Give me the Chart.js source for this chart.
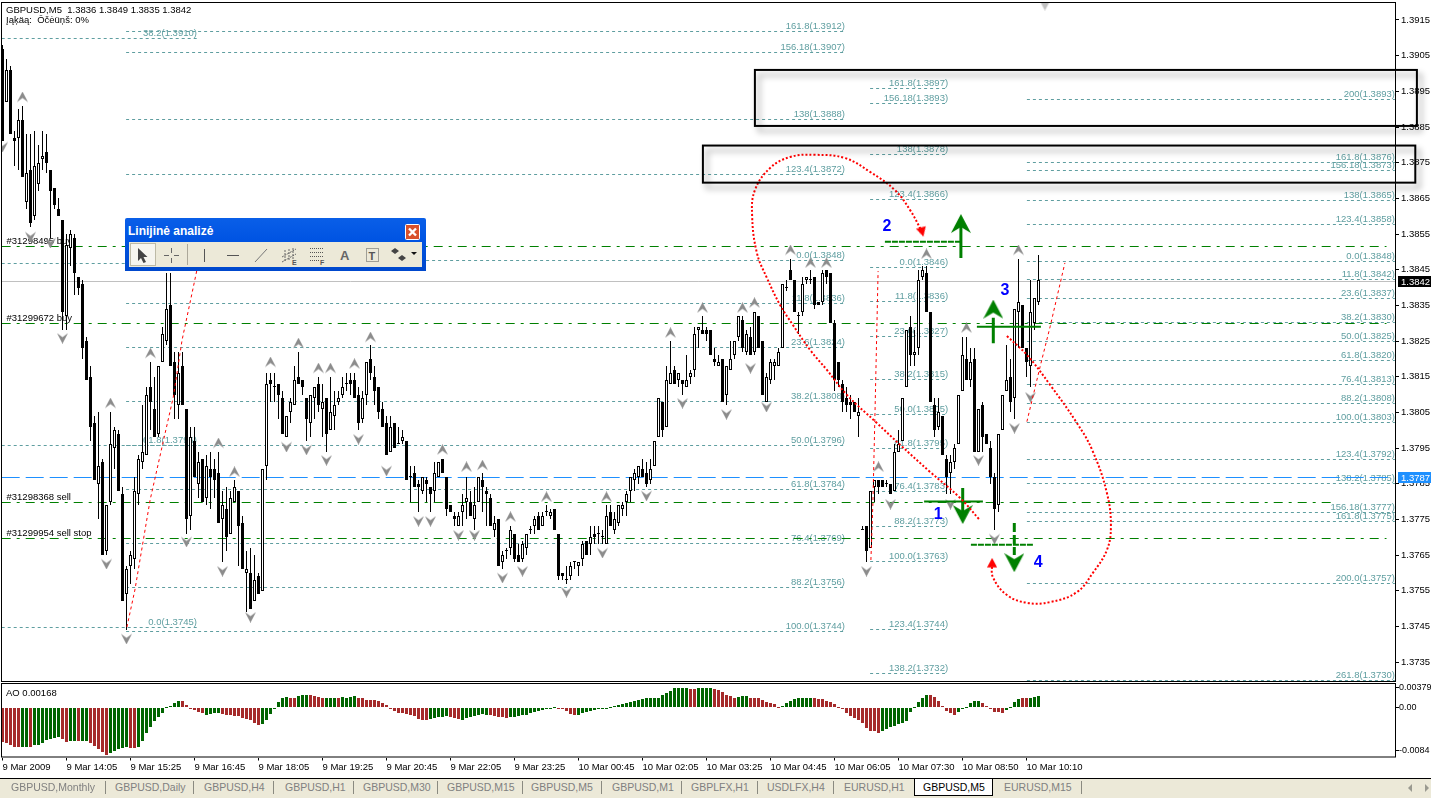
<!DOCTYPE html>
<html>
<head>
<meta charset="utf-8">
<title>GBPUSD,M5</title>
<script src="https://cdn.jsdelivr.net/npm/chart.js@4/dist/chart.umd.min.js"></script>
<style>
  html, body { margin: 0; padding: 0; background: #fff; overflow: hidden; }
  body { width: 1431px; height: 798px; position: relative; font-family: "Liberation Sans", sans-serif; }
  canvas { position: absolute; left: 0; }
  #mainChart { top: 0; }
  #aoChart { top: 683px; }
  .note { position: absolute; left: 6px; font-size: 9.5px; color: #000; white-space: pre; line-height: 10px; }
  #tabs { position: absolute; left: 0; top: 778px; width: 1431px; height: 19px; background: #ece9d8; border-top: 1px solid #000; }
  .tab { position: absolute; top: 2px; font-size: 10.5px; line-height: 13px; color: #808080; white-space: nowrap; }
  .sep { position: absolute; top: 2px; width: 1px; height: 13px; background: #8a8a80; }
  #activeTab { position: absolute; left: 914px; top: 0; width: 77px; height: 16px; background: #fff; border: 1px solid #000; border-top: 0; }
  #tool { position: absolute; left: 125px; top: 218px; width: 301px; height: 53px; background: linear-gradient(#0a5fe8, #0054e3 40%, #0048cc); border-radius: 2px 2px 0 0; }
  #tool .title { position: absolute; left: 3px; top: 6px; font-size: 12px; line-height: 14px; font-weight: bold; color: #fff; }
  #tool svg { position: absolute; }
</style>
</head>
<body>
<canvas id="mainChart" width="1431" height="684"></canvas>
<canvas id="aoChart" width="1431" height="95"></canvas>

<div class="note" style="top:5px">GBPUSD,M5  1.3836 1.3849 1.3835 1.3842</div>
<div class="note" style="top:15px">Įąķäą:  Ōčėüņš: 0%</div>
<div class="note" style="top:688px">AO 0.00168</div>

<div id="tool">
  <div class="title">Linijinė analizė</div>
  <svg style="left:280px;top:6px" width="15" height="16">
    <rect x="0.5" y="0.5" width="14" height="15" rx="1" fill="#d9512c" stroke="#fff"/>
    <path d="M4 4.5 L11 11.5 M11 4.5 L4 11.5" stroke="#fff" stroke-width="2.4"/>
  </svg>
  <svg style="left:4px;top:24px" width="293" height="25">
    <rect width="293" height="25" fill="#ece9d8"/>
    <rect x="1.5" y="1.5" width="25" height="22" fill="#f6f5ef" stroke="#bdbaa6"/>
    <path d="M9 6 L9 19 L12 16 L14.5 21 L17 20 L14.5 15 L18.5 15 Z" fill="#444"/>
    <path d="M35 13.5 H40 M45 13.5 H50 M42.5 6 V11 M42.5 16 V21" stroke="#666"/>
    <path d="M58.5 2 V23" stroke="#aca899"/>
    <path d="M75.5 7 V20" stroke="#555"/>
    <path d="M98 13.5 H110" stroke="#555"/>
    <path d="M126 20 L138 7" stroke="#777"/>
    <path d="M153 15 L167 7 M153 20 L167 12 M156 8 V20 M160 7 V19 M164 6 V17" stroke="#666" stroke-dasharray="2 1"/>
    <text x="163" y="23" font-size="7" font-weight="bold" fill="#555">E</text>
    <path d="M181 6.5 H194 M181 10.5 H194 M181 14.5 H194 M181 18.5 H190" stroke="#555" stroke-dasharray="1 1"/>
    <text x="191" y="23" font-size="7" font-weight="bold" fill="#555">F</text>
    <text x="211" y="18" font-size="13" font-weight="bold" fill="#666">A</text>
    <rect x="237.5" y="6.5" width="12" height="13" fill="none" stroke="#555" stroke-dasharray="1 1"/>
    <text x="239.5" y="18" font-size="11" font-weight="bold" fill="#555">T</text>
    <path d="M266 6 L270 9 L266 12 L262 9 Z M273 13 L277 16 L273 19 L269 16 Z" fill="#444"/>
    <path d="M282 10 H288 L285 13 Z" fill="#111"/>
  </svg>
</div>

<div id="tabs"><div id="activeTab"></div></div>

<script>
// koersdata, 5 minuten candles (in tienduizendsten)
const opens = [
  13907,13892,13901,13882,13882,13887,13864,13873,13860,13869,
  13876,13878,13873,13868,13862,13859,13832,13851,13854,13843,
  13841,13825,13815,13802,13785,13791,13766,13780,13795,13799,
  13782,13754,13762,13764,13782,13791,13793,13812,13806,13799,
  13819,13825,13835,13819,13807,13818,13806,13776,13797,13785,
  13792,13781,13789,13789,13788,13775,13778,13771,13780,13783,
  13774,13760,13760,13752,13759,13755,13790,13814,13812,13813,
  13809,13798,13805,13807,13815,13814,13809,13802,13809,13813,
  13806,13809,13800,13804,13808,13810,13813,13814,13814,13810,
  13803,13810,13820,13815,13812,13806,13802,13794,13802,13796,
  13797,13797,13787,13788,13785,13783,13786,13784,13783,13787,
  13792,13787,13779,13776,13773,13777,13780,13780,13775,13780,
  13786,13783,13781,13772,13775,13763,13766,13767,13771,13765,
  13764,13767,13772,13773,13776,13773,13777,13776,13778,13771,
  13760,13758,13759,13763,13762,13764,13769,13768,13771,13771,
  13770,13768,13777,13772,13774,13778,13780,13783,13786,13787,
  13789,13788,13786,13790,13798,13808,13801,13813,13817,13814,
  13814,13812,13815,13817,13828,13828,13828,13828,13820,13818,
  13820,13810,13817,13821,13826,13831,13822,13826,13822,13832,
  13825,13808,13814,13818,13818,13823,13840,13845,13842,13832,
  13833,13842,13842,13843,13836,13836,13845,13844,13830,13819,
  13813,13809,13808,13808,13804,13772,13773,13767,13784,13786,
  13786,13785,13785,13783,13794,13797,13812,13829,13821,13823,
  13843,13844,13833,13807,13801,13804,13792,13788,13791,13796,
  13811,13820,13814,13820,13794,13807,13799,13795,13787,13779,
  13800,13811,13815,13809,13833,13835,13823,13818,13830,13836
];
const closes = [
  13881,13901,13883,13881,13887,13871,13872,13858,13874,13875,
  13877,13875,13867,13863,13860,13833,13852,13855,13844,13840,
  13823,13814,13801,13786,13790,13765,13779,13796,13800,13783,
  13752,13761,13765,13783,13792,13794,13810,13808,13798,13818,
  13827,13834,13818,13810,13816,13807,13775,13798,13787,13791,
  13780,13790,13787,13786,13774,13779,13770,13781,13784,13773,
  13761,13761,13750,13758,13754,13789,13813,13813,13812,13810,
  13799,13804,13808,13814,13813,13812,13803,13810,13812,13807,
  13808,13799,13805,13807,13809,13812,13813,13813,13809,13802,
  13809,13819,13816,13811,13805,13801,13793,13801,13795,13796,
  13798,13786,13787,13784,13784,13787,13785,13782,13788,13791,
  13788,13778,13777,13775,13776,13779,13781,13776,13779,13787,
  13784,13782,13773,13774,13762,13765,13766,13772,13764,13763,
  13768,13771,13772,13775,13772,13776,13777,13777,13772,13759,
  13759,13758,13762,13763,13763,13768,13765,13770,13770,13771,
  13770,13776,13773,13775,13779,13779,13782,13787,13788,13790,
  13787,13785,13789,13797,13809,13800,13814,13816,13813,13816,
  13813,13814,13816,13827,13829,13827,13827,13821,13819,13819,
  13808,13818,13820,13825,13832,13823,13827,13821,13833,13823,
  13810,13815,13819,13819,13822,13841,13840,13842,13833,13832,
  13841,13843,13842,13835,13835,13844,13843,13830,13814,13814,
  13808,13807,13807,13805,13805,13772,13766,13783,13786,13784,
  13784,13785,13782,13794,13796,13809,13828,13821,13822,13842,
  13845,13833,13808,13800,13805,13793,13787,13791,13795,13810,
  13821,13814,13819,13794,13806,13798,13796,13787,13778,13799,
  13810,13814,13808,13834,13836,13823,13819,13833,13837,13842
];
const highs = [
  13908,13904,13902,13884,13890,13891,13883,13883,13884,13880,
  13884,13883,13873,13868,13865,13859,13855,13856,13855,13843,
  13842,13826,13818,13804,13805,13792,13779,13805,13801,13800,
  13784,13762,13766,13787,13793,13807,13812,13819,13815,13818,
  13829,13844,13844,13822,13822,13822,13806,13801,13801,13794,
  13792,13793,13794,13792,13794,13783,13784,13783,13786,13783,
  13776,13766,13767,13765,13760,13789,13816,13816,13816,13813,
  13811,13804,13809,13818,13822,13814,13809,13810,13812,13815,
  13813,13809,13815,13811,13811,13815,13816,13816,13816,13812,
  13811,13819,13824,13818,13812,13808,13804,13804,13802,13801,
  13800,13797,13790,13790,13786,13787,13787,13784,13791,13791,
  13792,13787,13779,13777,13777,13782,13787,13783,13784,13787,
  13788,13784,13782,13776,13775,13766,13767,13773,13771,13768,
  13769,13771,13773,13776,13777,13777,13779,13778,13778,13771,
  13760,13762,13763,13763,13763,13769,13769,13773,13773,13773,
  13772,13779,13779,13777,13779,13780,13783,13787,13789,13790,
  13792,13791,13792,13797,13809,13808,13818,13825,13818,13816,
  13814,13821,13817,13829,13829,13832,13829,13828,13823,13821,
  13820,13818,13825,13825,13832,13832,13828,13829,13833,13832,
  13825,13816,13820,13820,13823,13841,13842,13848,13842,13833,
  13843,13843,13845,13843,13836,13845,13845,13844,13831,13819,
  13814,13812,13810,13808,13809,13773,13773,13783,13786,13786,
  13786,13786,13785,13796,13800,13809,13828,13832,13828,13845,
  13846,13846,13833,13809,13809,13804,13793,13793,13796,13810,
  13826,13826,13823,13823,13806,13808,13799,13797,13788,13799,
  13810,13824,13820,13834,13848,13835,13823,13842,13837,13849
];
const lows = [
  13881,13892,13883,13874,13873,13871,13862,13857,13859,13867,
  13873,13872,13854,13862,13860,13828,13828,13846,13838,13838,
  13820,13814,13797,13786,13775,13765,13765,13779,13789,13783,
  13752,13744,13757,13761,13779,13789,13793,13800,13798,13798,
  13819,13824,13818,13803,13803,13807,13771,13772,13787,13781,
  13780,13779,13778,13781,13774,13763,13766,13771,13780,13762,
  13761,13749,13750,13752,13754,13755,13786,13808,13808,13803,
  13799,13798,13802,13807,13813,13810,13797,13798,13803,13805,
  13798,13794,13800,13800,13807,13809,13811,13810,13809,13800,
  13802,13807,13814,13807,13803,13801,13793,13794,13795,13796,
  13796,13786,13780,13784,13777,13782,13780,13777,13780,13787,
  13788,13776,13777,13773,13773,13773,13775,13776,13772,13780,
  13777,13773,13773,13770,13762,13761,13764,13765,13763,13763,
  13763,13765,13771,13771,13772,13773,13776,13775,13772,13758,
  13758,13757,13758,13761,13759,13762,13765,13765,13768,13768,
  13768,13768,13773,13771,13773,13776,13776,13780,13783,13785,
  13787,13784,13785,13790,13798,13798,13801,13813,13813,13812,
  13810,13812,13813,13815,13823,13827,13825,13821,13818,13818,
  13808,13807,13817,13820,13825,13822,13821,13821,13821,13823,
  13810,13808,13813,13814,13818,13823,13839,13842,13833,13827,
  13832,13841,13841,13834,13835,13835,13841,13830,13811,13812,
  13805,13805,13803,13805,13798,13772,13763,13767,13780,13782,
  13784,13784,13782,13783,13794,13797,13812,13818,13818,13821,
  13842,13833,13808,13798,13800,13793,13782,13782,13789,13796,
  13811,13814,13812,13794,13794,13794,13796,13785,13772,13777,
  13800,13811,13805,13803,13823,13823,13815,13812,13828,13835
];

// Awesome Oscillator (in 0.0001) en de kleur per staaf (r = rood, g = groen)
const aoValues = [
  -68.1,-70.1,-72.7,-76,-76,-76,-76,-76,-74,-72.7,
  -70.1,-63.5,-60.9,-59,-57,-61.6,-68.1,-64.8,-64.8,-65.5,
  -64.8,-64.8,-69.4,-75.3,-81.2,-86.5,-91.7,-89.1,-84.5,-80.6,
  -78.6,-77.3,-78.6,-78.6,-76,-64.8,-50.4,-38.6,-27.5,-19,
  -11.1,-0.7,2,7.9,11.8,11.8,3.9,-2.6,-5.9,-9.2,
  -11.8,-15.1,-13.8,-12.4,-11.8,-13.8,-14.4,-15.1,-16.4,-17.7,
  -20.3,-22.9,-25.5,-30.8,-35.4,-33.4,-25.5,-13.1,-3.9,9.2,
  18.3,19,17.7,17.7,21.6,22.3,23.6,22.3,21.6,19,
  17.7,17.7,17.7,17.7,16.4,19,18.3,19.7,20.3,18.3,
  16.4,13.8,13.8,13.8,11.1,8.5,3.9,-3.9,-7.9,-11.1,
  -11.1,-13.1,-15.7,-17.7,-23.6,-24.2,-24.2,-22.3,-20.3,-18.3,
  -18.3,-17.7,-19,-21,-23.6,-24.2,-21,-19,-17,-15.7,
  -13.8,-14.4,-15.1,-17,-18.3,-19.7,-20.3,-19,-19,-17.7,
  -15.7,-14.4,-12.4,-9.8,-7.9,-5.2,-2.6,-2,-0.7,-2,
  -4.6,-7.9,-13.8,-15.7,-15.1,-12.4,-10.5,-8.5,-6.6,-4.6,
  -2.6,-1.3,0.7,2,3.9,6.6,7.2,9.2,11.8,13.1,
  15.1,17,17.7,17.7,18.3,22.9,26.2,30.8,36,36.7,
  37.3,37.3,35.4,35.4,36.7,37.3,37.3,37.3,35.4,32.1,
  28.8,23.6,20.3,18.3,19,20.3,21.6,18.3,18.3,17,
  13.8,10.5,7.2,5.2,0.7,2,7.2,12.4,15.7,17.7,
  17.7,17.7,17.7,17,15.7,15.1,12.4,9.8,6.6,0,
  -4.6,-11.1,-17.7,-21,-24.2,-30.8,-40.6,-45.2,-46.5,-50.4,
  -45.2,-41.9,-38.6,-36.7,-33.4,-30.1,-26.9,-9.2,-0.7,9.2,
  18.3,22.3,22.3,19,12.4,2.6,-7.2,-12.4,-14.4,-10.5,
  -2.6,-0.7,7.2,11.8,11.8,8.5,2,-4.6,-9.2,-10.5,
  -12.4,-5.9,0.7,10.5,15.7,17,17,18.3,19,20.3
];
const aoColours = (
  "rrrrrggrgg" + "gggggrrggr" + "ggrrrrrggg" + "ggrrgggggg" + "gggggrrrrr" +
  "rggggrrrrr" + "rrrrrggggg" + "ggrrgggrrr" + "rgggrggggr" + "rrrrrrrrrr" +
  "rrrrrrrggg" + "ggrrrggggg" + "ggrrrrrggg" + "gggggggggr" + "rrrrgggggg" +
  "gggggggggg" + "gggggggggg" + "ggrrggggrr" + "rrrrgggrrr" + "rrrrrggggg" +
  "gggrrrrrrr" + "rrrrrrrrrr" + "gggggggggg" + "ggrrrrrrrg" + "gggggrrrrr" +
  "rggggrrggg"
).split("");

// fractals: staaf en prijs
const upFractalBars = [5,92,27,37,54,58,67,74,79,82,88,110,116,120,127,136,151,167,175,185,188,197,202,206,219,231,241,254];
const upFractalPips = [13893.4,13826.1,13807.6,13821.6,13796.4,13788.3,13819.1,13824.4,13817.4,13817.4,13818.6,13794.5,13789.7,13790.2,13775.7,13781.3,13781.3,13827.3,13834.3,13834.3,13835.7,13850.5,13846.9,13846.9,13789.7,13849.4,13828.7,13850.5];
const downFractalBars = [0,7,12,15,26,31,46,55,62,71,76,81,89,96,104,107,114,118,125,130,141,150,161,170,181,187,191,216,222,237,244,248,253,257];
const downFractalPips = [13879.4,13854.2,13852.5,13825.8,13762.5,13741.5,13768.7,13760.5,13747.6,13795.3,13794.5,13791.6,13797.5,13788.6,13774.5,13774.5,13770.6,13770.6,13758.6,13760.5,13754.6,13765.6,13781.6,13807.6,13804.5,13817.4,13806.5,13760.5,13779.3,13779.3,13791.6,13769.5,13800.6,13809.3];

// fibonacci groepen
const fibLeftBars = [-0.2, 48.6];
const fibLeftLabels = ["38.2(1.3910)", "", "61.8(1.3796)", "0.0(1.3745)"];
const fibLeftPrices = [1.39099, 1.38468, 1.37958, 1.37447];

const fibABars = [30.9, 210.6];
const fibALabels = ["161.8(1.3912)","156.18(1.3907)","138(1.3888)","123.4(1.3872)","0.0(1.3848)","11.8(1.3836)","23.6(1.3824)","38.2(1.3808)","50.0(1.3796)","61.8(1.3784)","76.4(1.3769)","88.2(1.3756)","100.0(1.3744)"];
const fibAPrices = [1.39118,1.39059,1.38872,1.38717,1.38476,1.38356,1.38232,1.38081,1.37958,1.37834,1.37683,1.37559,1.37436];

const fibBBars = [216.9, 236.4];
const fibBLabels = ["161.8(1.3897)","156.18(1.3893)","138(1.3878)","123.4(1.3866)","0.0(1.3846)","11.8(1.3836)","23.6(1.3827)","38.2(1.3815)","50.0(1.3805)","61.8(1.3795)","76.4(1.3783)","88.2(1.3773)","100.0(1.3763)","123.4(1.3744)","138.2(1.3732)"];
const fibBPrices = [1.38959,1.38917,1.38772,1.38648,1.38457,1.38361,1.38263,1.38143,1.38045,1.37949,1.37829,1.37731,1.37633,1.3744,1.37317];

const fibCBars = [256.1, 348.1];
const fibCLabels = ["200(1.3893)","161.8(1.3876)","156.18(1.3873)","138(1.3865)","123.4(1.3858)","0.0(1.3848)","11.8(1.3842)","23.6(1.3837)","38.2(1.3830)","50.0(1.3825)","61.8(1.3820)","76.4(1.3813)","88.2(1.3808)","100.0(1.3803)","123.4(1.3792)","138.2(1.3785)","156.18(1.3777)","161.8(1.3775)","200.0(1.3757)","261.8(1.3730)"];
const fibCPrices = [1.38926,1.38751,1.38727,1.38645,1.38578,1.38473,1.38423,1.3837,1.38303,1.38249,1.38196,1.38129,1.38075,1.38022,1.37918,1.37851,1.37769,1.37745,1.37571,1.37298];

// open orders
const orderLabels = ["#31298495 buy", "#31299672 buy", "#31298368 sell", "#31299954 sell stop"];
const orderPrices = [1.38515, 1.38298, 1.37797, 1.37697];
const orderEndBars = [346, 346, 332.3, 346];

const bidPrice = 1.38417;
const bidLabel = "1.3842";
const alertPrice = 1.37868;
const alertLabel = "1.3787";

// de rode lijnen die met de hand getekend zijn
const loopOneBars = [244.1,239.4,231.9,224.4,218.6,211.1,206.1,201.9,197.6,194.4,191.1,188.6,187.4,188.1,191.9,196.9,203.1,210.6,216.9,223.1,226.9,229.9];
const loopOnePips = [13775.1,13781,13788.3,13795.9,13802,13809.9,13816.9,13822.5,13829.5,13835.1,13842.7,13849.7,13860.3,13867.3,13873.5,13876.6,13877.2,13876.3,13872.4,13867.3,13861.7,13855.6];
const loopTwoBars = [251.1,256.1,261.9,268.6,272.4,276.1,277.1,276.1,272.6,268.6,261.9,256.1,251.1,247.6,247.4];
const loopTwoPips = [13826.4,13821.1,13812.7,13802,13794.5,13782.4,13772.9,13766.4,13760,13754.6,13751.8,13751.6,13753.8,13758.8,13762.8];
const thinOneBars = [31.1,33.1,36.9,40.1,42.7,44.9,47.4,48.6];
const thinOnePips = [13744.8,13755.2,13780.4,13796.4,13809.3,13825.3,13838.5,13844.9];
const thinTwoBars = [217.1,217.6,218.1,218.9];
const thinTwoPips = [13763.6,13779.6,13803.7,13844.6];
const thinThreeBars = [256.1,259.4,261.9,265.6];
const thinThreePips = [13802.4,13817.8,13829,13846.9];

// groene pijlen: schacht, pijlpunt en dwarsstreep
const arrowBars = [240.05, 239.6, 247.7, 252.95];
const arrowFromPips = [13783.8, 13848.3, 13824.4, 13774];
const arrowToPips = [13776.2, 13857.5, 13831.5, 13765];
const arrowHeadPips = [13776.5, 13857.8, 13833.8, 13763];
const crossFromBars = [230.4, 220.6, 243.6, 242.1];
const crossToBars = [245.1, 239.4, 259.6, 257.6];
const crossPips = [13780, 13852.8, 13829, 13767.9];
const waveLabels = ["1", "2", "3", "4"];
const waveBars = [233.9, 221.1, 250.6, 258.9];
const wavePips = [13776.2, 13857, 13839, 13762.8];

// de kleine rode pijlpunten en het grijze merkteken bovenaan
const redHeadBars = [229.9, 247.4];
const redHeadPips = [13855.6, 13762.8];
const shiftBars = [260.6];
const shiftPips = [13919.2];

// de twee zwarte kaders
const frameFromBars = [188.1, 175.1];
const frameToBars = [353.6, 353.2];
const frameTopPips = [13901, 13879.8];
const frameBottomPips = [13885.3, 13869.4];

// assen
const priceTicks = [1.3915,1.3905,1.3895,1.3885,1.3875,1.3865,1.3855,1.3845,1.3835,1.3825,1.3815,1.3805,1.3795,1.3785,1.3775,1.3765,1.3755,1.3745,1.3735];
const timeLabels = ["9 Mar 2009","9 Mar 14:05","9 Mar 15:25","9 Mar 16:45","9 Mar 18:05","9 Mar 19:25","9 Mar 20:45","9 Mar 22:05","9 Mar 23:25","10 Mar 00:45","10 Mar 02:05","10 Mar 03:25","10 Mar 04:45","10 Mar 06:05","10 Mar 07:30","10 Mar 08:50","10 Mar 10:10"];
const aoTicks = [0.00379, 0, -0.0084];
const aoTickLabels = ["0.00379", "0.00", "-0.0084"];

// tabbladen onderaan
const tabLabels = ["GBPUSD,Monthly","GBPUSD,Daily","GBPUSD,H4","GBPUSD,H1","GBPUSD,M30","GBPUSD,M15","GBPUSD,M5","GBPUSD,M1","GBPLFX,H1","USDLFX,H4","EURUSD,H1","GBPUSD,M5","EURUSD,M15"];
const tabLefts = [11,115,204,285,363,447,531,612,691,767,844,923,1004];
const tabSeparators = [105,193,273,353,437,522,601,681,757,833,1081];

const FONT = "Liberation Sans";
const TEAL = "#5f9ea0";
const GREEN = "#008000";
const RED = "#ff0000";
const BLUE = "#1e90ff";

const barNumbers = opens.map((v, i) => i);

function pip(v) {
    return v / 10000;
}

function points(bars, pips) {
    return bars.map((b, i) => ({ x: b, y: pip(pips[i]) }));
}

// een horizontale lijn tussen twee staven
function levelLine(fromBar, toBar, price, colour, dash) {
    return {
        type: "line", snap: true, order: 10, data: [{ x: fromBar, y: price }, { x: toBar, y: price }],
        borderColor: colour, borderWidth: 1, borderDash: dash, pointRadius: 0
    };
}

function curve(bars, pips, width, dash, tension) {
    return {
        type: "line", order: 1, data: points(bars, pips), borderColor: RED, borderWidth: width,
        borderDash: dash, tension: tension, pointRadius: 0
    };
}

// pijlpunt met holle achterkant, gebruikt voor de fractals en de groene pijlen
function arrowHead(size, colour, up, notch) {
    const c = document.createElement("canvas");
    c.width = size;
    c.height = size;
    const g = c.getContext("2d");
    if (!up) {
        g.translate(0, size);
        g.scale(1, -1);
    }
    g.fillStyle = colour;
    g.beginPath();
    g.moveTo(size / 2, 0);
    g.lineTo(size, size * 0.95);
    g.lineTo(size / 2, size * notch);
    g.lineTo(0, size * 0.95);
    g.closePath();
    g.fill();
    return c;
}

// pointRadius blijft 1: de plaatjes zijn groter, maar zo houdt chart.js geen extra marge aan
function markers(bars, pips, style, order, rotation) {
    return {
        type: "line", showLine: false, order: order, data: points(bars, pips),
        pointStyle: style, pointRadius: 1, pointHoverRadius: 0, pointBorderWidth: 0, pointRotation: rotation || 0
    };
}

const datasets = [];

[[fibLeftBars, fibLeftPrices], [fibABars, fibAPrices], [fibBBars, fibBPrices], [fibCBars, fibCPrices]].forEach(group => {
    group[1].forEach(price => datasets.push(levelLine(group[0][0], group[0][1], price, TEAL, [3, 3])));
});
orderPrices.forEach((price, i) => datasets.push(levelLine(-0.2, orderEndBars[i], price, GREEN, [9, 6, 3, 6])));
datasets.push(levelLine(-0.2, 348.4, bidPrice, "#c0c0c0", []));
datasets.push(levelLine(-0.2, 346.5, alertPrice, BLUE, [18, 6]));

// candles: eerst de lonten, dan de lichamen
datasets.push({
    type: "bar", order: 6, grouped: false, barThickness: 1, backgroundColor: "#000", inflateAmount: 0,
    data: barNumbers.map(i => ({ x: i, y: [pip(lows[i]), pip(highs[i])] }))
});
datasets.push({
    type: "bar", order: 5, grouped: false, barThickness: 3, minBarLength: 1, inflateAmount: 0,
    backgroundColor: barNumbers.map(i => closes[i] >= opens[i] ? "#fff" : "#000"),
    borderColor: "#000", borderWidth: 1, borderSkipped: false,
    data: barNumbers.map(i => ({ x: i, y: [pip(opens[i]), pip(closes[i])] }))
});

datasets.push(markers(upFractalBars, upFractalPips, arrowHead(11, "#8c8c8c", true, 0.6), 4));
datasets.push(markers(downFractalBars, downFractalPips, arrowHead(11, "#8c8c8c", false, 0.6), 4));

// groene pijlen
arrowBars.forEach((bar, i) => {
    datasets.push({
        type: "line", order: 3, borderColor: GREEN, borderWidth: 3, pointRadius: 0,
        borderDash: i === 3 ? [9, 3] : [],
        data: [{ x: bar, y: pip(arrowFromPips[i]) }, { x: bar, y: pip(arrowToPips[i]) }]
    });
    datasets.push({
        type: "line", order: 3, borderColor: GREEN, borderWidth: 2, pointRadius: 0,
        borderDash: i === 1 || i === 3 ? [6, 1] : [],
        data: [{ x: crossFromBars[i], y: pip(crossPips[i]) }, { x: crossToBars[i], y: pip(crossPips[i]) }]
    });
    datasets.push(markers([bar], [arrowHeadPips[i]], arrowHead(20, GREEN, i === 1 || i === 2, 0.65), 2));
});

// rode lijnen en pijlpunten
datasets.push(curve(loopOneBars, loopOnePips, 2, [2, 2], 0.4));
datasets.push(curve(loopTwoBars, loopTwoPips, 2, [2, 2], 0.4));
datasets.push(curve(thinOneBars, thinOnePips, 1, [3, 3], 0));
datasets.push(curve(thinTwoBars, thinTwoPips, 1, [3, 3], 0));
datasets.push(curve(thinThreeBars, thinThreePips, 1, [3, 3], 0));
datasets.push(markers([redHeadBars[0]], [redHeadPips[0]], arrowHead(10, RED, true, 0.95), 1, 165));
datasets.push(markers([redHeadBars[1]], [redHeadPips[1]], arrowHead(10, RED, true, 0.95), 1, 0));
datasets.push(markers(shiftBars, shiftPips, arrowHead(11, "#c0c0c0", false, 0.95), 4));

// staven en lijnen op hele pixels zetten zodat ze scherp blijven
const snapPlugin = {
    id: "snap",
    beforeDatasetDraw(chart, args) {
        const ds = chart.data.datasets[args.index];
        if (ds.snap) {
            args.meta.data.forEach(p => { p.y = Math.floor(p.y) + 0.5; });
        }
        if (args.meta.type === "bar") {
            args.meta.data.forEach(b => {
                b.y = Math.round(b.y);
                b.base = Math.round(b.base);
                if (b.y === b.base) {
                    b.base = b.y + 1;
                }
            });
        }
    }
};

function frameArea(chart) {
    const a = chart.chartArea;
    const g = chart.ctx;
    g.save();
    g.strokeStyle = "#000";
    g.lineWidth = 1;
    g.strokeRect(a.left, a.top, a.right - 0.5 - a.left, a.bottom - 0.5 - a.top);
    g.restore();
}

function labelGroup(g, x, y, bars, labels, prices) {
    labels.forEach((text, i) => {
        if (text) {
            g.fillText(text, x.getPixelForValue(bars[1]), Math.floor(y.getPixelForValue(prices[i])) - 2);
        }
    });
}

const textPlugin = {
    id: "texts",
    beforeDatasetsDraw(chart) {
        const g = chart.ctx;
        const x = chart.scales.x;
        const y = chart.scales.y;
        g.save();
        g.font = "9.5px '" + FONT + "'";
        g.textAlign = "right";
        g.textBaseline = "alphabetic";
        g.fillStyle = TEAL;
        labelGroup(g, x, y, fibLeftBars, fibLeftLabels, fibLeftPrices);
        labelGroup(g, x, y, fibABars, fibALabels, fibAPrices);
        labelGroup(g, x, y, fibBBars, fibBLabels, fibBPrices);
        labelGroup(g, x, y, fibCBars, fibCLabels, fibCPrices);
        g.textAlign = "left";
        g.fillStyle = "#000";
        orderLabels.forEach((text, i) => {
            g.fillText(text, x.getPixelForValue(1), Math.floor(y.getPixelForValue(orderPrices[i])) - 2);
        });
        g.restore();
    },
    afterDraw(chart) {
        const g = chart.ctx;
        const x = chart.scales.x;
        const y = chart.scales.y;
        frameArea(chart);
        g.save();
        // kaders met schaduw
        frameFromBars.forEach((bar, i) => {
            const left = x.getPixelForValue(bar);
            const right = x.getPixelForValue(frameToBars[i]);
            const top = y.getPixelForValue(pip(frameTopPips[i]));
            const bottom = y.getPixelForValue(pip(frameBottomPips[i]));
            g.save();
            g.shadowColor = "rgba(0,0,0,0.4)";
            g.shadowBlur = 6;
            g.shadowOffsetX = 4;
            g.shadowOffsetY = 5;
            g.strokeStyle = "#000";
            g.lineWidth = 2;
            g.strokeRect(left, top, right - left, bottom - top);
            g.restore();
        });
        // golfnummers
        g.font = "bold 16px '" + FONT + "'";
        g.fillStyle = "#0000ff";
        g.textAlign = "center";
        g.textBaseline = "middle";
        waveLabels.forEach((text, i) => {
            g.fillText(text, x.getPixelForValue(waveBars[i]), y.getPixelForValue(pip(wavePips[i])));
        });
        // prijslabels rechts
        g.font = "9.5px '" + FONT + "'";
        [[bidPrice, "#000", bidLabel], [alertPrice, BLUE, alertLabel]].forEach(item => {
            const py = Math.floor(y.getPixelForValue(item[0]));
            g.fillStyle = item[1];
            g.fillRect(1398, py - 5, 33, 11);
            g.fillStyle = "#fff";
            g.textAlign = "left";
            g.fillText(item[2], 1401, py + 1);
        });
        g.restore();
    }
};

// de standaard marge voor het eerste en laatste label uitzetten
function fixAxisWidth(scale) {
    scale.width = 35;
    scale.paddingTop = 0;
    scale.paddingBottom = 0;
}

const xRange = { type: "linear", offset: false, min: -0.25, max: 348.375 };

new Chart(document.getElementById("mainChart"), {
    type: "bar",
    data: { datasets: datasets },
    options: {
        responsive: false, animation: false, devicePixelRatio: 1, events: [],
        layout: { padding: { left: 1.5, top: 2.5, right: 0, bottom: 2 } },
        plugins: { legend: { display: false }, tooltip: { enabled: false } },
        scales: {
            x: Object.assign({}, xRange, { display: false, grid: { offset: false } }),
            y: {
                position: "right", min: 1.37294, max: 1.3919906,
                afterBuildTicks: scale => { scale.ticks = priceTicks.map(v => ({ value: v })); },
                afterFit: fixAxisWidth,
                border: { display: false },
                grid: { drawOnChartArea: false, tickColor: "#000", tickLength: 3 },
                ticks: {
                    autoSkip: false, padding: 2, color: "#000",
                    font: { family: FONT, size: 9.5 },
                    callback: v => v.toFixed(4)
                }
            }
        }
    },
    plugins: [snapPlugin, textPlugin]
});

new Chart(document.getElementById("aoChart"), {
    type: "bar",
    data: {
        datasets: [{
            grouped: false, barThickness: 3, inflateAmount: 0,
            backgroundColor: aoColours.map(c => c === "g" ? "#006400" : "#a52a2a"),
            data: barNumbers.map(i => ({ x: i, y: aoValues[i] / 10000 }))
        }]
    },
    options: {
        responsive: false, animation: false, devicePixelRatio: 1, events: [],
        layout: { padding: { left: 1.5, top: 0.5, right: 0, bottom: 0 } },
        plugins: { legend: { display: false }, tooltip: { enabled: false } },
        scales: {
            x: Object.assign({}, xRange, {
                afterBuildTicks: scale => { scale.ticks = timeLabels.map((t, i) => ({ value: i * 16 })); },
                afterFit: scale => { scale.height = 20.5; scale.paddingLeft = 0; scale.paddingRight = 0; },
                border: { display: false },
                grid: { offset: false, drawOnChartArea: false, tickColor: "#000", tickLength: 3 },
                ticks: {
                    autoSkip: false, maxRotation: 0, align: "start", padding: 1, color: "#000",
                    font: { family: FONT, size: 9.5 },
                    callback: (v, i) => timeLabels[i]
                }
            }),
            y: {
                position: "right", min: -0.00971, max: 0.004524,
                afterBuildTicks: scale => { scale.ticks = aoTicks.map(v => ({ value: v })); },
                afterFit: fixAxisWidth,
                border: { display: false },
                grid: { drawOnChartArea: false, tickColor: "#000", tickLength: 3 },
                ticks: {
                    autoSkip: false, padding: 0, color: "#000",
                    font: { family: FONT, size: 9 },
                    callback: (v, i) => aoTickLabels[i]
                }
            }
        }
    },
    plugins: [snapPlugin, { id: "aoFrame", afterDraw: frameArea }]
});

// tabbladen opbouwen
const tabs = document.getElementById("tabs");
tabLabels.forEach((label, i) => {
    const tab = document.createElement("div");
    tab.className = "tab";
    tab.style.left = tabLefts[i] + "px";
    tab.textContent = label;
    if (i === 11) {
        tab.style.color = "#000";
    }
    tabs.appendChild(tab);
});
tabSeparators.forEach(left => {
    const sep = document.createElement("div");
    sep.className = "sep";
    sep.style.left = left + "px";
    tabs.appendChild(sep);
});
tabs.insertAdjacentHTML("beforeend",
    '<svg style="position:absolute;left:1407px;top:5px" width="24" height="9"><path d="M5 0 V8 L1 4 Z M18 0 V8 L22 4 Z" fill="#9a9a90"/></svg>');
</script>
</body>
</html>
